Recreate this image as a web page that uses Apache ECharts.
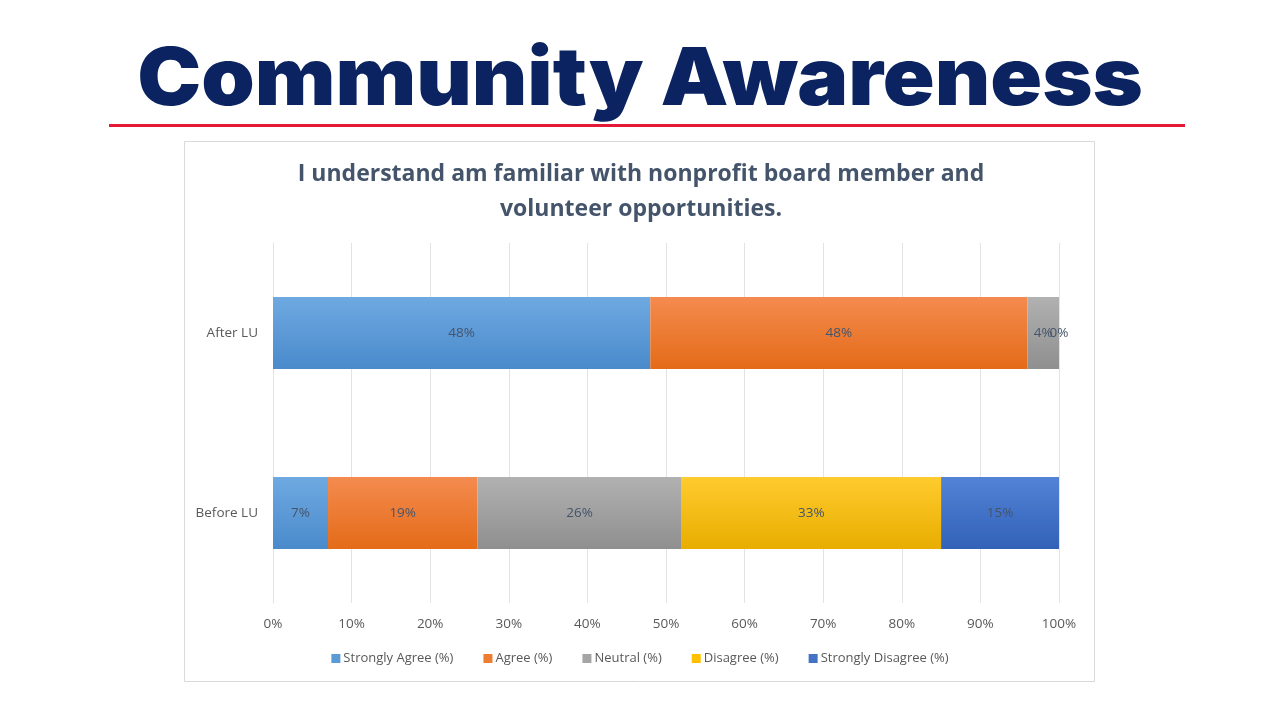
<!DOCTYPE html>
<html>
<head>
<meta charset="utf-8">
<script src="https://cdn.jsdelivr.net/npm/echarts@6/dist/echarts.min.js"></script>
<style>
  html, body { margin: 0; padding: 0; background: #fff; }
</style>
</head>
<body>
<div id="main" style="width: 1280px;height:720px;"></div>
<script type="text/javascript">
    // data
    var categories = ['Before LU', 'After LU'];
    var seriesNames = ['Strongly Agree (%)', 'Agree (%)', 'Neutral (%)', 'Disagree (%)', 'Strongly Disagree (%)'];
    var stronglyAgree = [7, 48];
    var agree = [19, 48];
    var neutral = [26, 4];
    var disagree = [33, 0];
    var stronglyDisagree = [15, null];
    var xTicks = [0, 10, 20, 30, 40, 50, 60, 70, 80, 90, 100];

    var values = [stronglyAgree, agree, neutral, disagree, stronglyDisagree];
    // flat colour for legend, gradient top/bottom for the bars
    var flat = ['#5b9bd5', '#ed7d31', '#a5a5a5', '#ffc000', '#4472c4'];
    var tops = ['#6ea9e1', '#f48b4f', '#b1b1b1', '#ffcb2e', '#5283d6'];
    var bots = ['#4a8acb', '#e46b18', '#8f8f8f', '#e8ad00', '#3261b8'];

    var myChart = echarts.init(document.getElementById('main'));

    var series = values.map(function (v, i) {
        return {
            name: seriesNames[i],
            type: 'bar',
            stack: 'total',
            barWidth: 72,
            data: v,
            itemStyle: {
                color: new echarts.graphic.LinearGradient(0, 0, 0, 1, [
                    { offset: 0, color: tops[i] },
                    { offset: 1, color: bots[i] }
                ])
            },
            label: {
                show: true,
                position: 'inside',
                formatter: '{c}%',
                color: '#44546a',
                fontFamily: 'Open Sans',
                fontSize: 13.5
            },
            emphasis: { disabled: true }
        };
    });

    var option = {
        animation: false,
        color: flat,
        title: {
            text: 'I understand am familiar with nonprofit board member and\nvolunteer opportunities.',
            left: 636,
            textAlign: 'center',
            top: 152,
            textStyle: {
                fontFamily: 'Open Sans',
                fontWeight: 'bold',
                fontSize: 23,
                lineHeight: 35,
                color: '#44546a'
            }
        },
        graphic: [
            {
                // big slide heading, stretched a little to match the wide original face
                type: 'text',
                x: 640,
                y: 41,
                scaleX: 1.07,
                silent: true,
                style: {
                    text: 'Community Awareness',
                    fontFamily: 'Inter',
                    fontWeight: 900,
                    fontSize: 80,
                    fill: '#0b2461',
                    align: 'center',
                    verticalAlign: 'top'
                }
            },
            {
                type: 'rect',
                shape: { x: 109, y: 124, width: 1076, height: 3 },
                style: { fill: '#e31937' },
                silent: true
            },
            {
                type: 'rect',
                shape: { x: 184.5, y: 141.5, width: 910, height: 540 },
                style: { fill: 'none', stroke: '#d9d9d9', lineWidth: 1 },
                silent: true,
                z: -1
            }
        ],
        legend: {
            data: seriesNames.map(function (n, i) {
                return { name: n, itemStyle: { color: flat[i] } };
            }),
            bottom: 50,
            left: 'center',
            icon: 'rect',
            itemWidth: 9,
            itemHeight: 9,
            itemGap: 30,
            textStyle: {
                fontFamily: 'Open Sans',
                fontSize: 13,
                color: '#595959',
                padding: [0, 0, 0, -2]
            }
        },
        grid: {
            left: 273,
            right: 221,
            top: 243,
            height: 360
        },
        xAxis: {
            type: 'value',
            min: 0,
            max: 100,
            interval: 10,
            axisLine: { show: false },
            axisTick: { show: false },
            splitLine: { lineStyle: { color: '#e3e3e3' } },
            axisLabel: {
                margin: 14,
                color: '#595959',
                fontFamily: 'Open Sans',
                fontSize: 13.5,
                formatter: function (v) { return xTicks.indexOf(v) >= 0 ? v + '%' : ''; }
            }
        },
        yAxis: {
            type: 'category',
            data: categories,
            axisLine: { lineStyle: { color: '#e3e3e3' } },
            axisTick: { show: false },
            axisLabel: {
                margin: 15,
                color: '#595959',
                fontFamily: 'Open Sans',
                fontSize: 13.5
            }
        },
        series: series
    };

    myChart.setOption(option);
</script>
</body>
</html>
